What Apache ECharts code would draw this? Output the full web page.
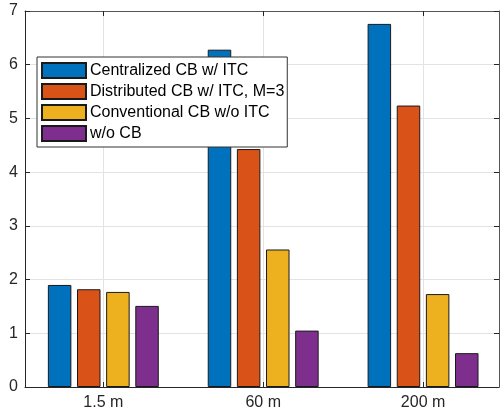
<!DOCTYPE html>
<html>
<head>
<meta charset="utf-8">
<script src="https://cdn.jsdelivr.net/npm/echarts@6/dist/echarts.min.js"></script>
<style>html,body{margin:0;padding:0;background:#fff}#c{width:500px;height:415px}</style>
</head>
<body>
<div id="c"></div>
<script>
var categories = ['1.5 m', '60 m', '200 m'];
var seriesNames = ['Centralized CB w/ ITC', 'Distributed CB w/ ITC, M=3', 'Conventional CB w/o ITC', 'w/o CB'];
var centralized = [1.90, 6.28, 6.76];
var distributed = [1.82, 4.43, 5.24];
var conventional = [1.77, 2.56, 1.73];
var withoutCB = [1.51, 1.05, 0.63];
var yTicks = [0, 1, 2, 3, 4, 5, 6, 7];

var colors = ['#0072BD', '#D95319', '#EDB120', '#7E2F8E'];
var allValues = [centralized, distributed, conventional, withoutCB];
var catPos = categories.map(function (c, i) { return i + 1; });
var font = 'Liberation Sans, Arial, Helvetica, sans-serif';
var axisColor = '#262626';

var series = allValues.map(function (vals, k) {
  return {
    name: seriesNames[k],
    type: 'bar',
    data: vals.map(function (v, i) { return [catPos[i], v]; }),
    barWidth: 23.5,
    barGap: '24%',
    itemStyle: { color: colors[k], borderColor: '#1a1a1a', borderWidth: 1 },
    emphasis: { disabled: true },
    animation: false
  };
});

var chart = echarts.init(document.getElementById('c'), null, { renderer: 'canvas' });
chart.setOption({
  animation: false,
  textStyle: { fontFamily: font },
  grid: { left: 25, right: 1, top: 11, bottom: 28, containLabel: false },
  legend: {
    orient: 'vertical',
    left: 37,
    top: 57,
    padding: [5, 3, 5, 4],
    itemWidth: 44,
    itemHeight: 15,
    itemGap: 4,
    backgroundColor: '#ffffff',
    borderColor: '#333333',
    borderWidth: 1,
    borderRadius: 0,
    icon: 'rect',
    selectedMode: false,
    textStyle: { fontFamily: font, fontSize: 16, lineHeight: 15, color: '#000000', padding: [0, 0, 0, -1] },
    data: seriesNames
  },
  xAxis: [{
    type: 'value',
    min: 0.51,
    max: 3.475,
    position: 'bottom',
    axisLine: { show: true, onZero: false, lineStyle: { color: axisColor, width: 1 } },
    axisTick: { show: true, inside: true, length: 5, customValues: catPos, lineStyle: { color: axisColor } },
    axisLabel: {
      customValues: catPos,
      fontFamily: font, fontSize: 16, color: axisColor, margin: 8,
      formatter: function (v) { return categories[Math.round(v) - 1] || ''; }
    },
    splitLine: { show: true, lineStyle: { color: '#e3e3e3', width: 1 } }
  }, {
    type: 'value',
    min: 0.51,
    max: 3.475,
    position: 'top',
    axisLine: { show: true, onZero: false, lineStyle: { color: '#555555', width: 1 } },
    axisTick: { show: true, inside: true, length: 5, customValues: catPos, lineStyle: { color: axisColor } },
    axisLabel: { show: false },
    splitLine: { show: false }
  }],
  yAxis: [{
    type: 'value',
    min: 0,
    max: 7,
    interval: 1,
    position: 'left',
    axisLine: { show: true, onZero: false, lineStyle: { color: axisColor, width: 1 } },
    axisTick: { show: true, inside: true, length: 5, lineStyle: { color: axisColor } },
    axisLabel: {
      fontFamily: font, fontSize: 16, color: axisColor, margin: 7,
      formatter: function (v) { return yTicks.indexOf(v) >= 0 ? String(v) : ''; }
    },
    splitLine: { show: true, lineStyle: { color: '#e3e3e3', width: 1 } }
  }, {
    type: 'value',
    min: 0,
    max: 7,
    interval: 1,
    position: 'right',
    axisLine: { show: true, onZero: false, lineStyle: { color: '#555555', width: 1 } },
    axisTick: { show: true, inside: true, length: 5, lineStyle: { color: axisColor } },
    axisLabel: { show: false },
    splitLine: { show: false }
  }],
  series: series
});
</script>
</body>
</html>
